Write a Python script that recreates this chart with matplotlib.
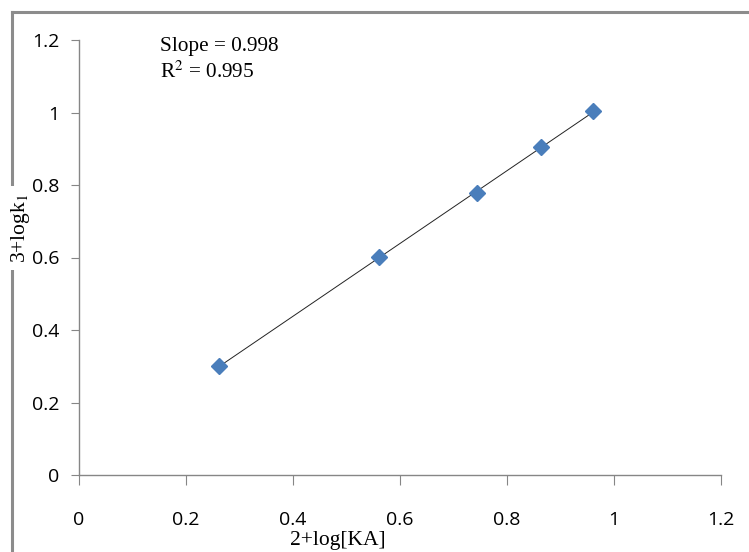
import matplotlib
matplotlib.use("Agg")
import matplotlib.pyplot as plt
import numpy as np
from matplotlib.lines import Line2D

# values
log_ka = [0.262, 0.561, 0.744, 0.864, 0.961]
log_k1 = [0.300, 0.601, 0.778, 0.905, 1.003]
ticks = [0, 0.2, 0.4, 0.6, 0.8, 1, 1.2]
tick_labels = ["0", "0.2", "0.4", "0.6", "0.8", "1", "1.2"]
slope_text = "Slope = 0.998"
r2_text = "R$^2$ = 0.995"

plt.rcParams['mathtext.fontset'] = 'stix'
grey = "#868686"

fig = plt.figure(figsize=(7.49, 5.52), dpi=100)
ax = fig.add_axes([79/749, 1 - 475/552, (721-79)/749, (475-40)/552])

# frame of the original chart area (cropped)
fig.add_artist(Line2D([12/749, 1], [1 - 12/552, 1 - 12/552], color="#8c8c8c", lw=2.2,
                      transform=fig.transFigure, zorder=-3))
fig.add_artist(Line2D([12/749, 12/749], [0, 1 - 12/552], color="#8c8c8c", lw=2.2,
                      transform=fig.transFigure, zorder=-3))

# linear trend line
m, c = np.polyfit(log_ka, log_k1, 1)
xs = np.array([min(log_ka), max(log_ka)])
ax.plot(xs, m*xs + c, color="#222222", lw=0.7, zorder=2)
ax.plot(log_ka, log_k1, linestyle="none", marker="D", markersize=8.3,
        color="#4a7ebb", markeredgecolor="#4a7ebb", zorder=3)

ax.set_xlim(0, 1.2)
ax.set_ylim(0, 1.2)
ax.set_xticks(ticks)
ax.set_xticklabels(tick_labels)
ax.set_yticks(ticks)
ax.set_yticklabels(tick_labels)
for s in ["top", "right"]:
    ax.spines[s].set_visible(False)
for s in ["left", "bottom"]:
    ax.spines[s].set_color(grey)
    ax.spines[s].set_linewidth(1.0)
ax.tick_params(axis="x", direction="out", length=7, color=grey, pad=19, labelsize=14)
ax.tick_params(axis="y", direction="out", length=6, color=grey, pad=8, labelsize=14)
for lab in ax.get_xticklabels() + ax.get_yticklabels():
    lab.set_fontfamily("Open Sans")

fig.text(338/749, 1 - 540/552, "2+log[KA]", family="Liberation Serif", fontsize=15.5,
         ha="center", va="center")
# drawn below the axes so the tick labels stay on top of its white box
fig.text(21/749, 1 - 228/552, "3+logk$_1$", family="Liberation Serif", fontsize=15.5,
         ha="center", va="center", rotation=90, zorder=-2,
         bbox=dict(facecolor="white", edgecolor="none", pad=5))

ax.text(160/749, 1 - 47/552, slope_text, transform=fig.transFigure,
        family="Liberation Serif", fontsize=15.3, ha="left", va="center")
ax.text(160/749, 1 - 72/552, r2_text, transform=fig.transFigure,
        family="Liberation Serif", fontsize=15.3, ha="left", va="center")

fig.savefig("out.png", dpi=100)
